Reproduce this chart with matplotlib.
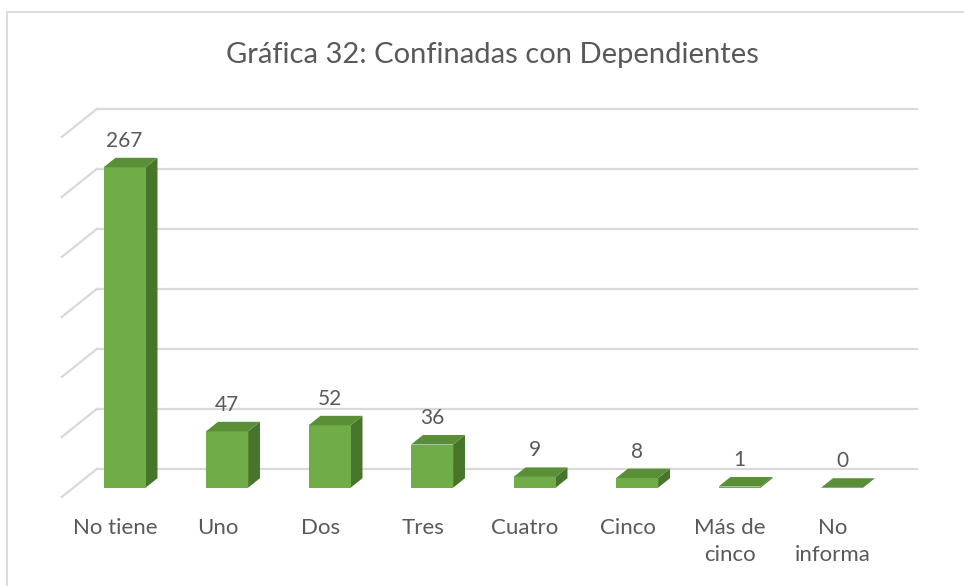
import numpy as np
import matplotlib.pyplot as plt
from matplotlib.patches import Polygon

categories = ["No tiene", "Uno", "Dos", "Tres", "Cuatro", "Cinco", "Más de\ncinco", "No\ninforma"]
values = [267, 47, 52, 36, 9, 8, 1, 0]
grid_vals = [0, 50, 100, 150, 200, 250, 300]
title = "Gráfica 32: Confinadas con Dependientes"

front_col = "#70AD47"
top_col = "#5A8F38"
side_col = "#47752B"
grid_col = "#D9D9D9"
text_col = "#595959"

# pseudo 3d: depth d (0 = back wall, 1 = front of floor)
DX = -0.341   # x shift per unit depth (category units)
DY = -23.3    # y shift per unit depth (value units)
d_front, d_back = 0.67, 0.33
half_w = 0.205


def pt(x, v, d):
    return (x + DX * d, v + DY * d)


fig = plt.figure(figsize=(9.64, 5.86), dpi=100)
ax = fig.add_axes([0, 0, 1, 1])
ax.set_xlim(-1.444, 7.961)
ax.set_ylim(-97.5, 390.8)
ax.axis("off")
plt.rcParams["font.family"] = ["Lato", "DejaVu Sans"]

# chart border (only top/left visible)
ax.plot([(7 - 148) / 102.5, (7 - 148) / 102.5, 8.5], [-120, (469 - 12) / 1.2, (469 - 12) / 1.2],
        color=grid_col, lw=1.3, zorder=0)

# gridlines: back wall + left side wall
x0, x1 = -0.5, len(categories) - 0.5
for g in grid_vals:
    ax.plot([x0, x1], [g, g], color=grid_col, lw=1.6, zorder=1)
    a = pt(x0, g, 0)
    b = pt(x0, g, 1)
    ax.plot([a[0], b[0]], [a[1], b[1]], color=grid_col, lw=1.6, zorder=1)

xs = np.arange(len(categories))
for x, v in zip(xs, values):
    fl = pt(x - half_w, 0, d_front)
    fr = pt(x + half_w, 0, d_front)
    ftl = pt(x - half_w, v, d_front)
    ftr = pt(x + half_w, v, d_front)
    btl = pt(x - half_w, v, d_back)
    btr = pt(x + half_w, v, d_back)
    br = pt(x + half_w, 0, d_back)
    # side face
    ax.add_patch(Polygon([fr, ftr, btr, br], closed=True, fc=side_col, ec="none", zorder=3))
    # front face
    ax.add_patch(Polygon([fl, fr, ftr, ftl], closed=True, fc=front_col, ec="none", zorder=4))
    # top face
    ax.add_patch(Polygon([ftl, ftr, btr, btl], closed=True, fc=top_col, ec="none", zorder=5))
    lx = pt(x, v, d_front)[0]
    ly = pt(x, v, d_back)[1]
    ax.annotate(str(v), (lx, ly), xytext=(0, 5), textcoords="offset points",
                ha="center", va="bottom", fontsize=15, color=text_col, zorder=6)

for x, lab in zip(xs, categories):
    lx, ly = pt(x, 0, 1)
    ax.annotate(lab, (lx + 0.02, ly), xytext=(0, -15), textcoords="offset points",
                ha="center", va="top", multialignment="center", fontsize=16,
                color=text_col, linespacing=1.45)

fig.text(492 / 964, 1 - 55 / 586, title, ha="center", va="center", fontsize=21,
         color=text_col)

fig.savefig("out.png", dpi=100, facecolor="white")
